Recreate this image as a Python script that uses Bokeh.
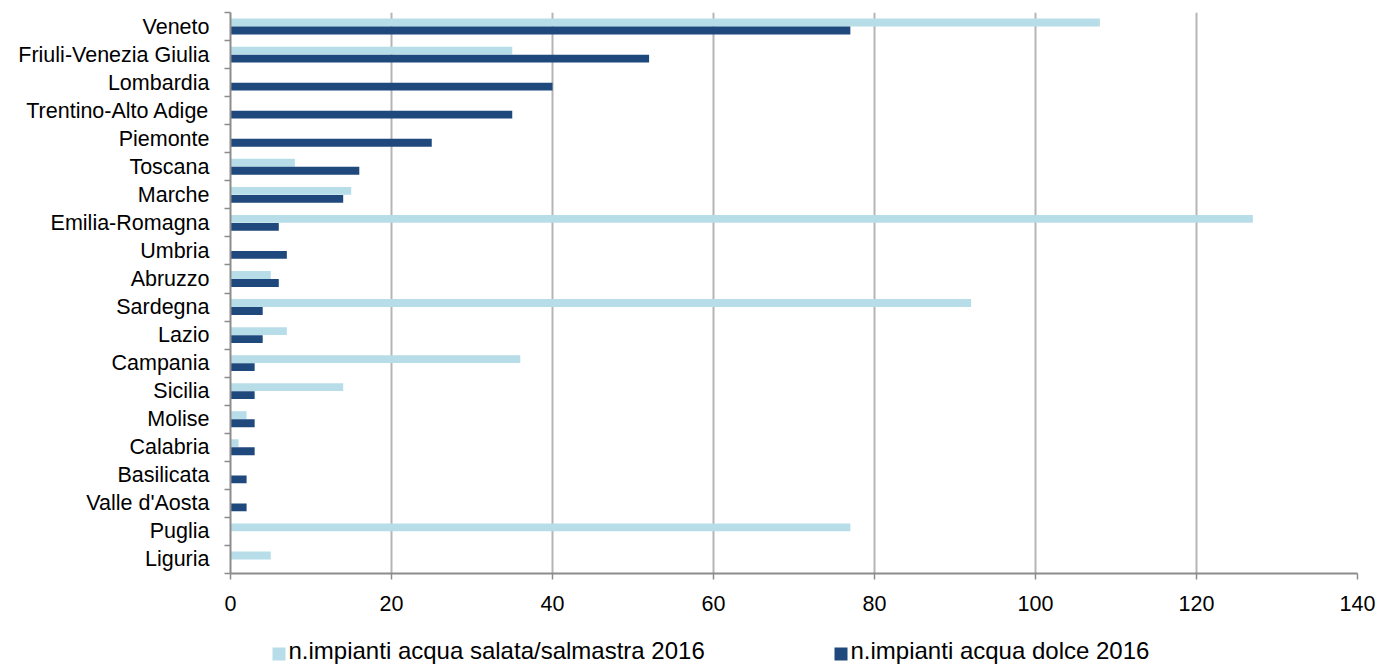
from bokeh.plotting import figure
from bokeh.layouts import column
from bokeh.core.properties import value
from bokeh.models import (ColumnDataSource, FixedTicker, CustomJSTickFormatter, Range1d)
from bokeh.embed import file_html
from bokeh.resources import INLINE

# Regions, listed top to bottom
regions = ["Veneto", "Friuli-Venezia Giulia", "Lombardia", "Trentino-Alto Adige",
           "Piemonte", "Toscana", "Marche", "Emilia-Romagna", "Umbria", "Abruzzo",
           "Sardegna", "Lazio", "Campania", "Sicilia", "Molise", "Calabria",
           "Basilicata", "Valle d'Aosta", "Puglia", "Liguria"]

# Number of plants per region
salata = [108, 35, 0, 0, 0, 8, 15, 127, 0, 5, 92, 7, 36, 14, 2, 1, 0, 0, 77, 5]
dolce = [77, 52, 40, 35, 25, 16, 14, 6, 7, 6, 4, 4, 3, 3, 3, 3, 2, 2, 0, 0]

series_labels = ["n.impianti acqua salata/salmastra 2016", "n.impianti acqua dolce 2016"]
x_ticks = [0, 20, 40, 60, 80, 100, 120, 140]

FONT = "Liberation Sans"
C_SALATA = "#b7dee8"
C_DOLCE = "#1f497d"
AXIS_GREY = "#8c8c8c"

FRAME_LEFT, FRAME_RIGHT, WIDTH = 230, 1357, 1381

n = len(regions)
centers = [n - i - 0.5 for i in range(n)]
half = 0.143

src = ColumnDataSource(dict(
    region=regions,
    y_sal=[c + half for c in centers],
    y_dol=[c - half for c in centers],
    salata=salata,
    dolce=dolce,
))

p = figure(width=WIDTH, height=618, output_backend="svg", toolbar_location=None,
           x_range=Range1d(0, 140), y_range=Range1d(0, n),
           min_border_left=FRAME_LEFT, min_border_right=WIDTH - FRAME_RIGHT,
           min_border_top=12, min_border_bottom=45)
p.outline_line_color = None
p.background_fill_color = "white"
p.border_fill_color = "white"

p.hbar(y="y_sal", left=0, right="salata", height=2 * half * 0.98,
       source=src, fill_color=C_SALATA, line_color=None)
p.hbar(y="y_dol", left=0, right="dolce", height=2 * half * 0.98,
       source=src, fill_color=C_DOLCE, line_color=None)

# x axis
xa = p.xaxis[0]
xa.ticker = FixedTicker(ticks=x_ticks)
xa.axis_line_color = AXIS_GREY
xa.axis_line_width = 2
xa.major_tick_line_color = AXIS_GREY
xa.major_tick_line_width = 1.5
xa.major_tick_out = 6
xa.major_tick_in = 0
xa.minor_tick_line_color = None
xa.major_label_standoff = 16
xa.major_label_text_font = FONT
xa.major_label_text_font_size = "21.5px"
xa.major_label_text_color = "#000000"

# y axis: labels at band centres, ticks at band boundaries
ya = p.yaxis[0]
ya.ticker = FixedTicker(ticks=centers, minor_ticks=list(range(n + 1)))
ya.formatter = CustomJSTickFormatter(args=dict(names=regions, n=n), code="""
    const i = n - 1 - Math.floor(tick);
    return (i >= 0 && i < names.length) ? names[i] : "";
""")
ya.axis_line_color = AXIS_GREY
ya.axis_line_width = 2
ya.major_tick_line_color = None
ya.major_tick_out = 0
ya.major_tick_in = 0
ya.minor_tick_line_color = AXIS_GREY
ya.minor_tick_line_width = 1.5
ya.minor_tick_out = 6
ya.minor_tick_in = 0
ya.major_label_standoff = 15
ya.major_label_text_font = FONT
ya.major_label_text_font_size = "21.5px"
ya.major_label_text_color = "#000000"

p.ygrid.grid_line_color = None
p.xgrid.ticker = FixedTicker(ticks=x_ticks[1:])
p.xgrid.grid_line_color = "#b5b5b5"
p.xgrid.grid_line_width = 2

# Legend strip under the chart; its frame lines up with the chart's frame and
# its ranges are in page pixels (y grows downward)
leg = figure(width=WIDTH, height=46, output_backend="svg", toolbar_location=None,
             x_range=Range1d(FRAME_LEFT, FRAME_RIGHT), y_range=Range1d(46, 0),
             min_border_left=FRAME_LEFT, min_border_right=WIDTH - FRAME_RIGHT,
             min_border_top=0, min_border_bottom=0, outline_line_color=None)
leg.axis.visible = False
leg.grid.visible = False

key_left = [272, 834]
key_size = 13
key_mid = 35.5
leg.quad(left=key_left, right=[k + key_size for k in key_left],
         top=[key_mid - key_size / 2] * 2, bottom=[key_mid + key_size / 2] * 2,
         fill_color=[C_SALATA, C_DOLCE], line_color=None)
leg.text(x=[k + key_size + 3 for k in key_left], y=[31.5] * 2, text=series_labels,
         text_font=value(FONT), text_font_size="24px", text_color="#000000",
         text_baseline="middle", text_align="left")

open("out.html", "w").write(file_html(column(p, leg, spacing=0), INLINE))
